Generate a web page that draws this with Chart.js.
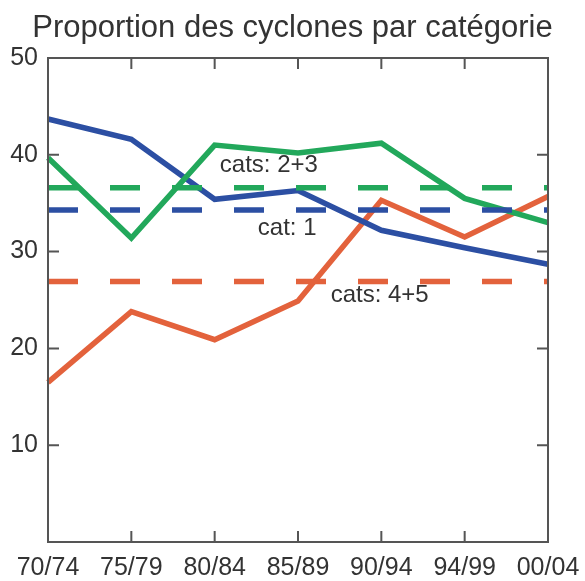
<!DOCTYPE html>
<html>
<head>
<meta charset="utf-8">
<script src="https://cdn.jsdelivr.net/npm/chart.js@4"></script>
<style>
  html, body { margin: 0; padding: 0; background: #fff; }
  #wrap { width: 585px; height: 581px; }
</style>
</head>
<body>
<div id="wrap"><canvas id="chart"></canvas></div>
<script>
// Data
const periods = ['70/74', '75/79', '80/84', '85/89', '90/94', '94/99', '00/04'];
const cat1 = [43.7, 41.6, 35.4, 36.3, 32.2, 30.4, 28.7];
const cat23 = [39.7, 31.4, 41.0, 40.2, 41.2, 35.5, 33.0];
const cat45 = [16.5, 23.8, 20.9, 24.9, 35.3, 31.5, 35.7];
// Means (dashed lines)
const mean1 = 34.3;
const mean23 = 36.6;
const mean45 = 26.9;
const yTicks = [0, 10, 20, 30, 40, 50];
const title = 'Proportion des cyclones par catégorie';

const BLUE = '#2c4fa3';
const GREEN = '#22a85b';
const ORANGE = '#e3623c';
const FONT = '"Liberation Sans", Arial, sans-serif';

// Text labels next to the lines
const lineLabels = [
    { text: 'cats: 2+3', at: 2.65, value: 38.9 },
    { text: 'cat: 1', at: 2.87, value: 32.4 },
    { text: 'cats: 4+5', at: 3.98, value: 25.5 }
];

const flat = v => periods.map(() => v);

function solid(data, color) {
    return { data, borderColor: color, borderWidth: 5.5, pointRadius: 0, tension: 0, fill: false };
}
function dashed(v, color) {
    return { data: flat(v), borderColor: color, borderWidth: 5.5, borderDash: [30, 32], pointRadius: 0, fill: false };
}

// Box frame with inward ticks, title across the whole canvas, and the line labels
const framePlugin = {
    id: 'frame',
    afterDatasetsDraw(chart) {
        const { ctx, chartArea: a, scales: { x, y } } = chart;
        ctx.save();
        ctx.strokeStyle = '#555';
        ctx.lineWidth = 2;
        ctx.strokeRect(a.left, a.top, a.right - a.left, a.bottom - a.top);
        ctx.beginPath();
        for (let i = 1; i < periods.length - 1; i++) {
            const px = x.getPixelForValue(i);
            ctx.moveTo(px, a.bottom); ctx.lineTo(px, a.bottom - 11);
            ctx.moveTo(px, a.top); ctx.lineTo(px, a.top + 11);
        }
        yTicks.slice(1, -1).forEach(t => {
            const py = y.getPixelForValue(t);
            ctx.moveTo(a.left, py); ctx.lineTo(a.left + 11, py);
            ctx.moveTo(a.right, py); ctx.lineTo(a.right - 11, py);
        });
        ctx.stroke();

        ctx.fillStyle = '#333';
        ctx.textAlign = 'center';
        ctx.textBaseline = 'middle';
        ctx.font = '31px ' + FONT;
        ctx.fillText(title, chart.width / 2, 28);

        ctx.font = '24px ' + FONT;
        lineLabels.forEach(l => {
            ctx.fillText(l.text, x.getPixelForValue(l.at), y.getPixelForValue(l.value));
        });
        ctx.restore();
    }
};

new Chart(document.getElementById('chart'), {
    type: 'line',
    data: {
        labels: periods,
        datasets: [
            dashed(mean23, GREEN),
            dashed(mean1, BLUE),
            dashed(mean45, ORANGE),
            solid(cat23, GREEN),
            solid(cat1, BLUE),
            solid(cat45, ORANGE)
        ]
    },
    options: {
        responsive: true,
        maintainAspectRatio: false,
        animation: false,
        layout: { padding: { top: 58, right: 37, bottom: 0, left: 0 } },
        plugins: {
            legend: { display: false },
            tooltip: { enabled: false },
            title: { display: false }
        },
        scales: {
            x: {
                offset: false,
                grid: { display: false },
                border: { display: false },
                ticks: {
                    color: '#333',
                    font: { family: FONT, size: 25 },
                    maxRotation: 0,
                    autoSkip: false,
                    padding: 3
                },
                afterFit(scale) { scale.height = 39; }
            },
            y: {
                min: 0,
                max: 50,
                afterBuildTicks(scale) { scale.ticks = yTicks.map(v => ({ value: v })); },
                grid: { display: false },
                border: { display: false },
                ticks: {
                    color: '#333',
                    font: { family: FONT, size: 25 },
                    padding: 2,
                    callback: v => (v === 0 ? '' : v)
                },
                afterFit(scale) { scale.width = 48; }
            }
        }
    },
    plugins: [framePlugin]
});
</script>
</body>
</html>
